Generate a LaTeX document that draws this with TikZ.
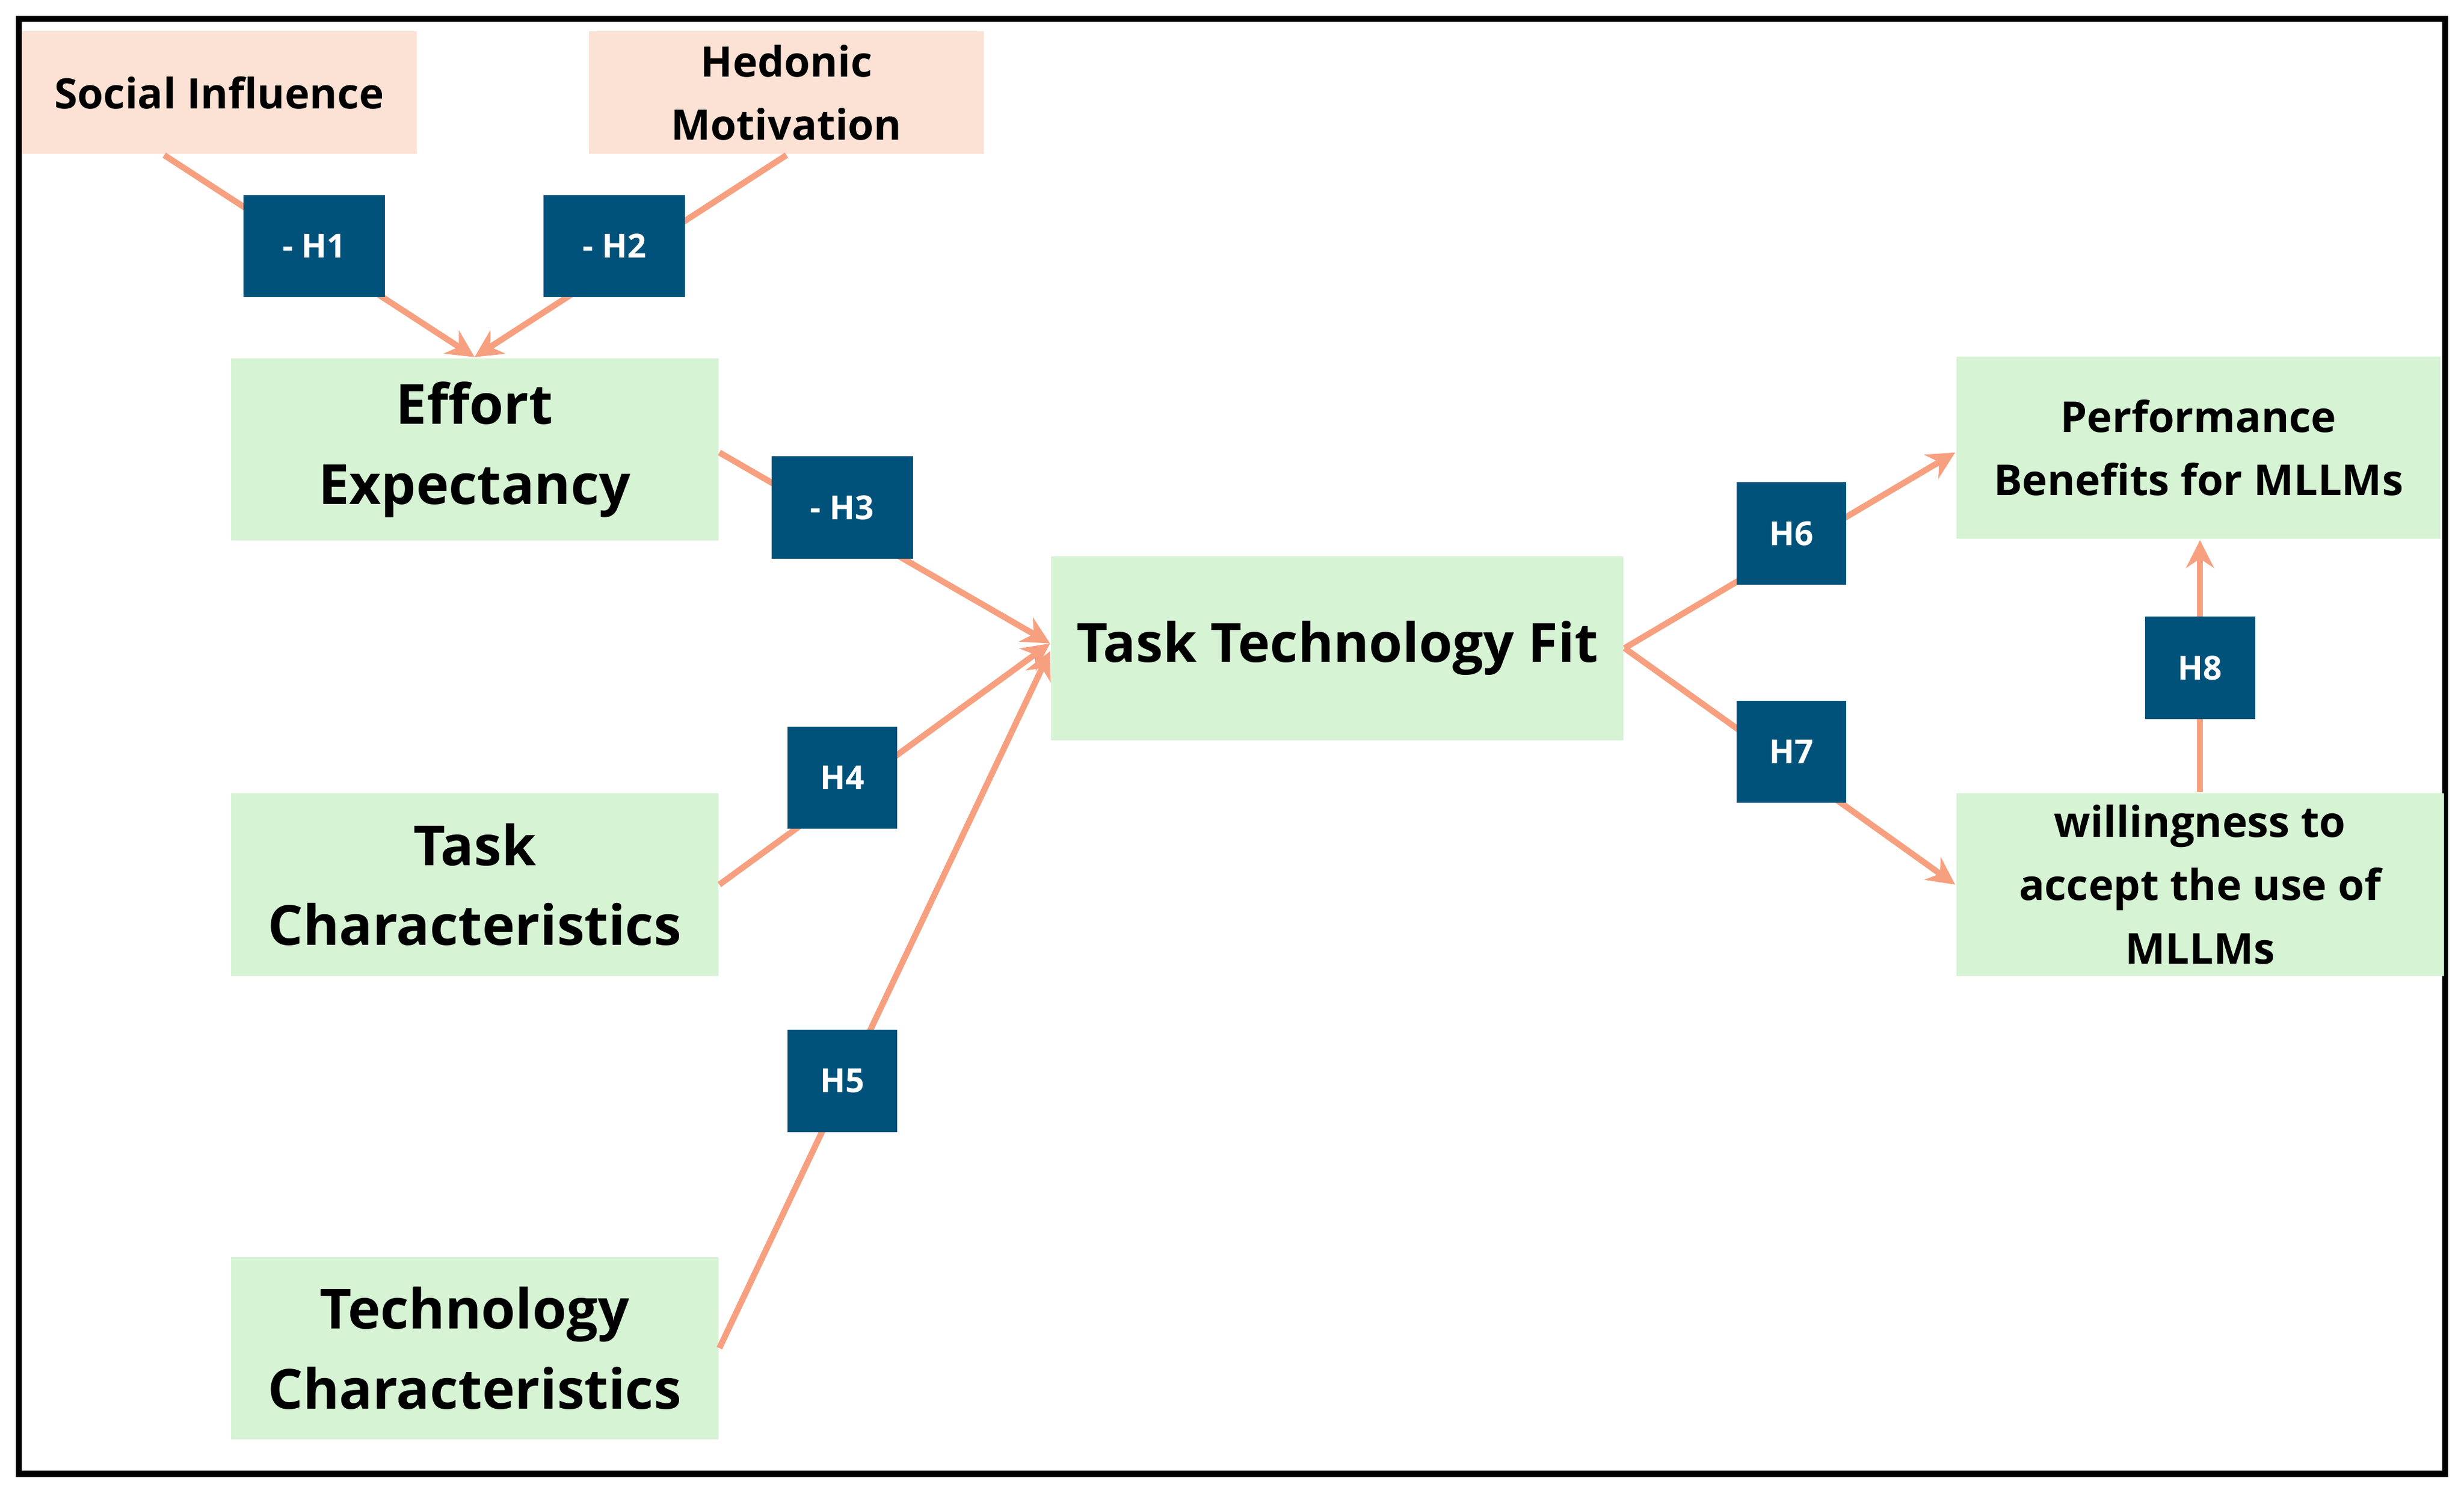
\documentclass[tikz,border=0pt]{standalone}
\usepackage{fontspec}
\setmainfont{Open Sans}
\usetikzlibrary{arrows.meta,calc}
\definecolor{pinkbg}{RGB}{252,226,212}
\definecolor{greenbg}{RGB}{214,243,212}
\definecolor{hblue}{RGB}{0,82,122}
\definecolor{salmon}{RGB}{247,160,128}
\begin{document}
\begin{tikzpicture}[x=0.01cm,y=-0.01cm,
 pinkbox/.style={fill=pinkbg,draw=none,minimum width=2.51cm,minimum height=0.78cm,align=center,inner sep=0pt,font=\bfseries\fontsize{7.6}{11.5}\selectfont},
 greenbox/.style={fill=greenbg,draw=none,minimum width=3.10cm,minimum height=1.16cm,align=center,inner sep=0pt,font=\bfseries\fontsize{10}{14.5}\selectfont},
 hbox/.style={fill=hblue,draw=none,text=white,minimum width=0.70cm,minimum height=0.65cm,inner sep=0pt,font=\bfseries\fontsize{6}{7}\selectfont},
 hwide/.style={hbox,minimum width=0.90cm},
 link/.style={draw=salmon,line width=1.1pt,-{Stealth[length=5pt,width=5pt]}}]
\useasboundingbox (0,0) rectangle (1568,948);
\draw[line width=1.1pt] (12,12) rectangle (1556,938);
\node[pinkbox] (si) at (139.5,59) {Social Influence};
\node[pinkbox] (hm) at (500.5,59) {Hedonic\\Motivation};
\node[greenbox] (ee) at (302,286) {Effort\\Expectancy};
\node[greenbox,minimum width=3.64cm,minimum height=1.17cm,font=\bfseries\fontsize{9.8}{14}\selectfont] (ttf) at (851,412.5) {Task Technology Fit};
\node[greenbox] (tc) at (302,563) {Task\\Characteristics};
\node[greenbox] (tech) at (302,858) {Technology\\Characteristics};
\node[greenbox,minimum width=3.08cm,font=\bfseries\fontsize{7.7}{11.5}\selectfont] (pb) at (1399,285) {Performance\\Benefits for MLLMs};
\node[greenbox,font=\bfseries\fontsize{7.7}{11.5}\selectfont] (wa) at (1400,563) {willingness to\\accept the use of\\MLLMs};
\draw[link] ($(si.south)+(-35,0)$) -- (ee.north);
\draw[link] (hm.south) -- (ee.north);
\draw[link] ($(ee.east)+(0,2)$) -- ($(ttf.west)+(0,-3)$);
\draw[link] (tc.east) -- ($(ttf.west)+(0,-3)$);
\draw[link] (tech.east) -- ($(ttf.west)+(0,2)$);
\draw[link] (ttf.east) -- ($(pb.west)+(0,3)$);
\draw[link] (ttf.east) -- (wa.west);
\draw[link] (wa.north) -- ($(pb.south)+(1,0)$);
\node[hwide] (h1) at (200,156.5) {- H1};
\node[hwide] (h2) at (391,156.5) {- H2};
\node[hwide] (h3) at (536,323) {- H3};
\node[hbox] (h4) at (536,495) {H4};
\node[hbox] (h5) at (536,688) {H5};
\node[hbox] (h6) at (1140,339.5) {H6};
\node[hbox] (h7) at (1140,478.5) {H7};
\node[hbox] (h8) at (1400,425) {H8};
\end{tikzpicture}
\end{document}
